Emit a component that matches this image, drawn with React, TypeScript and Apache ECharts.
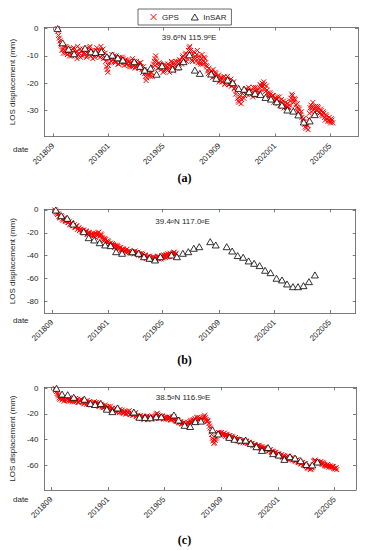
import React, { useEffect, useRef } from 'react';
import * as echarts from 'echarts';

// x values are days after 2018-09-01
const TICK_DAYS = [0, 122, 242, 365, 487, 608];
const TICK_LABELS = ['201809', '201901', '201905', '201909', '202001', '202005'];

const Y_TICKS_A = [-30, -20, -10, 0];
const Y_TICKS_B = [-80, -60, -40, -20, 0];
const Y_TICKS_C = [-60, -40, -20, 0];

const LOCATIONS = ['39.6°N 115.9°E', '39.4°N 117.0°E', '38.5°N 116.9°E'];
const CAPTIONS = ['(a)', '(b)', '(c)'];

const GPS_STEP = 3; // days between consecutive listed GPS values

const GPS_A_START = 9;
const GPS_A = [
  0, -2.5, -4.5, -6, -7.5, -6.5, -9, -7, -8.5, -10,
  -8, -9.5, -7, -10, -8.5, -6.5, -9, -10.5, -8, -7.5,
  -9.5, -7.5, -10, -8, -6.5, -9, -11, -8.5, -9.5, -7,
  -10, -8.5, -6.5, -9.5, -11, -9, -14, -16, -12.5, -10.5,
  -9.5, -11, -12, -10, -11.5, -13, -10.5, -12, -11, -13.5,
  -11.5, -13, -12, -14, -12.5, -11, -13.5, -14.5, -12, -13,
  -13.5, -12.5, -15, -14, -16.5, -19, -17, -15.5, -17.5, -16,
  -14, -12, -10, -13, -14.5, -13, -15, -14, -15.5, -13.5,
  -15, -13, -16, -14, -12.5, -15.5, -13.5, -12, -14.5, -13,
  -11.5, -13, -10, -12.5, -9, -11, -8, -6.5, -10, -12,
  -8.5, -11, -9.5, -12.5, -10, -13, -9.5, -12, -11, -13.5,
  -15.5, -14.5, -17, -16, -15, -17.5, -16.5, -18.5, -17, -19,
  -18, -19.5, -17.5, -20, -18.5, -19, -20.5, -18.5, -21, -19.5,
  -21.5, -23, -25.5, -27, -24.5, -26, -23, -24.5, -22, -23.5,
  -21.5, -24, -22.5, -25, -23, -21.5, -24.5, -22, -23.5, -21,
  -20, -19.5, -22, -21, -23.5, -25, -24, -26, -24.5, -25.5,
  -27, -25, -26.5, -28, -26, -27.5, -29, -27, -28.5, -30,
  -28, -25.5, -24.5, -27, -26, -29, -30.5, -29.5, -31.5, -32.5,
  -33, -35, -36.5, -35.5, -33, -29, -30.5, -27, -29.5, -28.5,
  -30, -29, -31, -30, -32, -31, -33.5, -32, -34, -32.5,
  -34.5, -33.5,
];
const GPS_A2_START = 10.5;
const GPS_A2 = [
  -1, -3.5, -5.5, -8, -9, -8, -6.5, -9.5, -7.5, -9,
  -10, -7.5, -9, -8.5, -11, -9.5, -7.5, -8.5, -10, -9,
  -8, -10.5, -9, -7, -10, -8, -9.5, -10.5, -8, -9.5,
  -8, -10.5, -8, -7.5, -10.5, -12, -15, -13.5, -11, -12,
  -11.5, -10, -12.5, -11, -13, -11.5, -12.5, -10.5, -12.5, -11.5,
  -13, -11.5, -13.5, -12.5, -14, -13, -12, -14, -13, -14.5,
  -12.5, -14, -16, -15, -17.5, -18, -15.5, -17, -16, -17.5,
  -13, -11, -12, -14.5, -12.5, -14, -13.5, -16, -13, -14.5,
  -14, -15, -13.5, -12, -14, -12.5, -14.5, -13.5, -12, -11.5,
  -12.5, -10.5, -11.5, -9.5, -12, -9.5, -7, -8, -11.5, -9.5,
  -10.5, -12, -8, -11, -12.5, -11, -13, -10.5, -12.5, -14,
  -16.5, -16, -15.5, -18, -17, -16, -18.5, -17.5, -19.5, -18,
  -19.5, -18, -20.5, -19, -17.5, -20.5, -19.5, -21, -20, -22,
  -24, -22, -26.5, -25, -27.5, -23, -25.5, -22.5, -24, -22.5,
  -23, -22.5, -24, -21.5, -24.5, -23, -22.5, -23.5, -20.5, -22.5,
  -21, -20.5, -23, -22.5, -24.5, -23.5, -25.5, -24.5, -27, -26,
  -26, -27.5, -25, -27, -28.5, -26.5, -28, -29, -27.5, -29,
  -26.5, -24, -26, -25.5, -28, -27.5, -29, -31, -30.5, -33.5,
  -34, -36, -35, -37, -31, -28, -29, -28.5, -30.5, -29,
  -28.5, -30.5, -29.5, -31.5, -30.5, -32.5, -31.5, -33, -33.5, -34,
  -33, -34.5,
];

const GPS_B_START = 6;
const GPS_B = [
  0, -2, -4, -5.5, -7, -6, -9, -8, -10, -9.5,
  -11, -12.5, -11, -14, -13, -15.5, -14, -16.5, -18, -17,
  -19, -17.5, -20, -19, -21.5, -20, -22.5, -21, -23, -21.5,
  -20.5, -22, -19.5, -23, -22, -25, -27, -26, -29, -28,
  -30, -31.5, -29.5, -32, -31, -33.5, -32, -34, -33, -35.5,
  -34.5, -36, -35, -37, -36, -38, -37, -36.5, -38.5, -37.5,
  -38, -39.5, -38.5, -40, -39, -41, -40, -42.5, -41, -40.5,
  -42, -43.5, -41.5, -43, -42, -41, -43, -41.5, -40, -42,
  -40.5, -39, -41, -39.5, -38, -40, -38.5, -37, -39,
];
const GPS_B2_START = 7.5;
const GPS_B2 = [
  -1, -3, -3.5, -6.5, -5, -8, -7, -9.5, -8.5, -11,
  -10, -13, -12, -13.5, -15, -14, -17, -15.5, -17, -18.5,
  -18, -20, -18.5, -21, -19.5, -22, -20.5, -22, -21, -24,
  -21.5, -20, -23, -21, -24, -26, -25, -28, -27, -30,
  -29, -32, -30.5, -33, -32, -31, -34.5, -33, -35, -34,
  -35.5, -37, -34.5, -36.5, -37.5, -36.5, -38, -37.5, -36, -38,
  -37, -38.5, -40, -38, -40.5, -39.5, -42, -41, -43, -42,
  -43, -41, -42.5, -44, -42.5, -40.5, -42, -43, -41, -39.5,
  -41.5, -40, -38.5, -40.5, -39, -41, -37.5, -39.5, -38,
];

const GPS_C_START = 8;
const GPS_C = [
  0, -2.5, -5, -7.5, -6.5, -9, -8, -7, -9.5, -8.5,
  -7.5, -10, -9, -8, -10.5, -9.5, -8.5, -11, -10, -9,
  -10.5, -12, -11, -9.5, -12.5, -11, -13, -12, -10.5, -12.5,
  -13, -11.5, -14, -12.5, -13.5, -15, -14, -16, -14.5, -15.5,
  -17, -15.5, -16.5, -18, -16, -17.5, -19, -18, -17, -19.5,
  -18.5, -20, -19, -17.5, -20.5, -19.5, -21, -20, -22, -21,
  -22.5, -21.5, -23.5, -22, -24, -23, -21.5, -23.5, -22.5, -24,
  -22, -23.5, -21, -19.5, -22.5, -21.5, -23, -22, -24, -23,
  -22.5, -24, -23, -25, -23.5, -22, -24.5, -26, -25, -27,
  -26.5, -28, -27, -29, -28, -26.5, -27.5, -25, -26.5, -24.5,
  -23.5, -25.5, -22.5, -24, -26, -25, -23, -21, -24.5, -26,
  -27.5, -31, -36, -41, -42.5, -39, -36.5, -34.5, -36, -34.5,
  -36, -35, -37.5, -36.5, -38, -37, -39, -38, -40, -38.5,
  -39.5, -41, -40, -42, -41, -40, -42.5, -41.5, -43, -42,
  -44, -43, -45, -44, -46, -45, -44.5, -46.5, -45.5, -47.5,
  -46.5, -48, -47, -49, -48, -50, -49.5, -51, -50, -52,
  -51.5, -53, -52, -54, -53, -55, -54, -53, -55.5, -54.5,
  -56, -55, -57, -56, -58, -57.5, -59, -58, -60, -59,
  -61, -62.5, -60.5, -63, -61.5, -57, -56, -58, -57, -58.5,
  -57.5, -59.5, -58.5, -60, -61, -59.5, -61.5, -60.5, -62, -61,
  -63, -62,
];
const GPS_C2_START = 9.5;
const GPS_C2 = [
  -1.5, -4, -6, -8.5, -7.5, -8, -10, -8.5, -7.5, -9.5,
  -9, -8.5, -10.5, -9.5, -8, -10, -11, -9.5, -8.5, -10.5,
  -11.5, -10, -12.5, -11, -10.5, -12, -11.5, -13.5, -11.5, -11,
  -12, -14, -13, -14.5, -15, -13, -15.5, -14.5, -16.5, -14,
  -16, -17.5, -17, -15.5, -18.5, -17, -16.5, -18.5, -19, -18,
  -20, -18, -19.5, -20.5, -19, -21, -20.5, -19, -21.5, -22.5,
  -21.5, -23, -22, -24.5, -22.5, -22, -24.5, -22.5, -23.5, -23,
  -23, -22, -20, -21, -23.5, -22.5, -21.5, -23.5, -22.5, -24,
  -23.5, -22.5, -24.5, -24, -22.5, -23.5, -25.5, -24.5, -26.5, -26,
  -27.5, -27, -28.5, -27.5, -29, -27, -26, -26.5, -25, -25.5,
  -24.5, -23, -25, -23, -25, -24, -22, -23, -25.5, -25,
  -29.5, -34, -39, -43, -40.5, -38, -35.5, -35, -35, -36,
  -35.5, -36.5, -36, -37.5, -37, -38.5, -37.5, -39.5, -39, -40,
  -40.5, -40, -41.5, -41, -42.5, -41.5, -41, -43, -42.5, -43.5,
  -43, -44.5, -44, -45.5, -45, -46, -45.5, -47, -46.5, -46.5,
  -47.5, -47, -48.5, -48, -49.5, -49, -50.5, -50, -51.5, -51,
  -52.5, -52, -53.5, -52.5, -54.5, -53.5, -55, -54, -54.5, -55.5,
  -55, -56.5, -56, -57.5, -57, -58.5, -58, -59.5, -59, -60.5,
  -62, -61.5, -63.5, -62, -60, -56.5, -57, -57.5, -58, -57.5,
  -58.5, -58, -59.5, -60.5, -60, -60.5, -61, -61.5, -61, -62.5,
  -62.5, -63.5,
];

const INSAR_A_DAYS = [10, 21, 34, 46, 70, 83, 93, 106, 118, 130, 142, 153, 178, 191, 201, 214, 227, 239, 262, 275, 286, 299, 311, 322, 347, 358, 383, 394, 407, 419, 430, 443, 455, 466, 478, 491, 502, 514, 527, 538, 550, 563, 574];
const INSAR_A_MM = [0, -5.2, -7.5, -9.2, -7.2, -8.5, -8.7, -8.4, -10.3, -9.7, -10.7, -11.5, -12.1, -13.8, -15.2, -14.5, -16.7, -13.6, -14.8, -14, -12.1, -9.6, -15.2, -16.4, -16.6, -18.2, -18.8, -19.8, -21.9, -22.2, -23.1, -23.7, -24.1, -25.2, -25.8, -26.8, -28, -29.8, -30.2, -31.6, -34.2, -33.8, -31.5];

const INSAR_B_DAYS = [8, 20, 33, 46, 69, 80, 92, 104, 116, 128, 140, 153, 176, 189, 201, 213, 225, 237, 261, 273, 286, 298, 310, 322, 346, 358, 382, 394, 406, 418, 430, 442, 454, 466, 478, 491, 503, 514, 527, 538, 550, 562, 575];
const INSAR_B_MM = [0, -5, -7.3, -12.3, -19, -24.3, -26.3, -28.7, -30.7, -31.3, -36.6, -38, -36.6, -38, -41, -42.4, -43.9, -41, -39.5, -41, -38, -36.6, -33.6, -32.2, -27.8, -30.7, -32.2, -36, -40, -41.5, -44.7, -46.8, -48.8, -52.9, -55, -59.9, -61.4, -64.9, -67.3, -67.3, -66.4, -62.9, -57];

const INSAR_C_DAYS = [11, 23, 35, 48, 71, 84, 94, 106, 119, 131, 142, 177, 189, 201, 213, 225, 236, 263, 273, 286, 298, 309, 321, 346, 358, 382, 393, 405, 417, 428, 440, 452, 465, 476, 488, 500, 512, 523, 535, 547, 560, 571];
const INSAR_C_MM = [0, -4.5, -5, -7, -8.5, -11.8, -12.6, -11.8, -16.3, -18.2, -15.3, -18.5, -22.6, -22.7, -23, -22.2, -22.2, -20.8, -24.8, -28.9, -29.8, -26, -25.6, -32.4, -35.6, -38.3, -39.8, -40.4, -40.5, -43, -45.6, -48.5, -46.2, -51, -52.1, -55.5, -53.4, -54.5, -56.5, -59.5, -59.8, -57.5];

const AX = '#5a5a5a';
const TXT = '#262626';
const FONT = '"Liberation Sans", Arial, Helvetica, sans-serif';
const CROSS = 'path://M0 0L10 10M10 0L0 10';

const PANELS = [
  { left: 39, top: 27.5, width: 319, height: 109, xMin: -19, xMax: 669, yMin: -39.5, yMax: 0.4, yTicks: Y_TICKS_A,
    gpsSets: [[GPS_A_START, GPS_A], [GPS_A2_START, GPS_A2]] as [number, number[]][],
    insD: INSAR_A_DAYS, insV: INSAR_A_MM, locX: 189, locY: 37, dateY: 149.5, capY: 178 },
  { left: 39, top: 209.3, width: 316.7, height: 103.7, xMin: -16.8, xMax: 664.3, yMin: -90.4, yMax: 0.6, yTicks: Y_TICKS_B,
    gpsSets: [[GPS_B_START, GPS_B], [GPS_B2_START, GPS_B2]] as [number, number[]][],
    insD: INSAR_B_DAYS, insV: INSAR_B_MM, locX: 182.5, locY: 221.5, dateY: 320.5, capY: 360 },
  { left: 39.3, top: 387.3, width: 316.7, height: 102.7, xMin: -14.8, xMax: 653.8, yMin: -79.4, yMax: 0.8, yTicks: Y_TICKS_C,
    gpsSets: [[GPS_C_START, GPS_C], [GPS_C2_START, GPS_C2]] as [number, number[]][],
    insD: INSAR_C_DAYS, insV: INSAR_C_MM, locX: 183, locY: 397.5, dateY: 499.5, capY: 540 },
];

export default function App() {
  const ref = useRef<HTMLDivElement>(null);
  useEffect(() => {
    if (!ref.current) return;
    const chart = echarts.init(ref.current, null, { renderer: 'svg' });
    const lineStyle = { color: AX, width: 0.8 };
    const grid: any[] = [];
    const xAxis: any[] = [];
    const yAxis: any[] = [];
    const series: any[] = [];
    const graphic: any[] = [];
    PANELS.forEach((p, i) => {
      grid.push({ left: p.left, top: p.top, width: p.width, height: p.height, containLabel: false });
      const xBase = {
        type: 'value', gridIndex: i, min: p.xMin, max: p.xMax,
        axisLine: { show: true, onZero: false, lineStyle },
        axisTick: { show: true, inside: true, length: 3, customValues: TICK_DAYS, lineStyle },
        splitLine: { show: false },
      };
      xAxis.push({
        ...xBase, position: 'bottom',
        axisLabel: {
          show: true, customValues: TICK_DAYS, rotate: 45, margin: 8, fontSize: 8, color: TXT, fontFamily: FONT,
          formatter: (v: number) => TICK_LABELS[TICK_DAYS.indexOf(v)] ?? '',
        },
      });
      xAxis.push({ ...xBase, position: 'top', axisLabel: { show: false } });
      const yBase = {
        type: 'value', gridIndex: i, min: p.yMin, max: p.yMax,
        axisLine: { show: true, onZero: false, lineStyle },
        axisTick: { show: true, inside: true, length: 3, customValues: p.yTicks, lineStyle },
        splitLine: { show: false },
      };
      yAxis.push({
        ...yBase, position: 'left',
        name: 'LOS displacement (mm)', nameLocation: 'middle', nameGap: 21,
        nameTextStyle: { fontSize: 8, color: TXT, fontFamily: FONT },
        axisLabel: { show: true, customValues: p.yTicks, margin: 6, fontSize: 8, color: TXT, fontFamily: FONT },
      });
      yAxis.push({ ...yBase, position: 'right', axisLabel: { show: false } });

      const gpsData: number[][] = [];
      p.gpsSets.forEach(([start, vals]) => {
        vals.forEach((v, k) => gpsData.push([start + k * GPS_STEP, v]));
      });
      series.push({
        type: 'scatter', name: 'GPS', xAxisIndex: 2 * i, yAxisIndex: 2 * i,
        data: gpsData,
        symbol: CROSS, symbolSize: 5,
        itemStyle: { color: 'rgba(0,0,0,0)', borderColor: '#ff0000', borderWidth: 1, opacity: 1 },
        z: 2, silent: true,
      });
      series.push({
        type: 'scatter', name: 'InSAR', xAxisIndex: 2 * i, yAxisIndex: 2 * i,
        data: p.insD.map((d, k) => [d, p.insV[k]]),
        symbol: 'triangle', symbolSize: [7, 6],
        itemStyle: { color: '#ffffff', borderColor: '#000000', borderWidth: 0.8, opacity: 1 },
        z: 3, silent: true,
      });

      graphic.push({
        type: 'text', x: p.locX, y: p.locY, z: 10,
        style: {
          text: LOCATIONS[i].replace(/°/g, '{s|o}'),
          fontSize: 8, fontFamily: FONT, fill: TXT,
          align: 'center', verticalAlign: 'middle', textAlign: 'center', textVerticalAlign: 'middle',
          rich: { s: { fontSize: 5.5, fontFamily: FONT, fill: TXT, verticalAlign: 'top' } },
        },
      });
      graphic.push({
        type: 'text', x: 13, y: p.dateY, z: 10,
        style: {
          text: 'date', fontSize: 8, fontFamily: FONT, fill: TXT,
          align: 'left', verticalAlign: 'middle', textAlign: 'left', textVerticalAlign: 'middle',
        },
      });
      graphic.push({
        type: 'text', x: 184.5, y: p.capY, z: 10,
        style: {
          text: CAPTIONS[i], fontSize: 12, fontWeight: 'bold', fontFamily: '"Liberation Serif", "Times New Roman", serif', fill: '#000',
          align: 'center', verticalAlign: 'middle', textAlign: 'center', textVerticalAlign: 'middle',
        },
      });
    });

    chart.setOption({
      animation: false,
      backgroundColor: '#ffffff',
      grid, xAxis, yAxis, series, graphic,
      legend: {
        data: [
          { name: 'GPS', icon: CROSS, itemStyle: { color: 'rgba(0,0,0,0)', borderColor: '#ff0000', borderWidth: 1 } },
          { name: 'InSAR', icon: 'triangle', itemStyle: { color: '#ffffff', borderColor: '#000000', borderWidth: 0.8 } },
        ],
        left: 138, top: 9, orient: 'horizontal',
        padding: [4, 5, 4, 12], itemWidth: 7, itemHeight: 6, itemGap: 12,
        borderColor: '#444', borderWidth: 0.8, backgroundColor: '#fff',
        selectedMode: false,
        textStyle: { fontSize: 8, color: TXT, fontFamily: FONT },
      },
    });
    return () => chart.dispose();
  }, []);
  return (
    <div
      ref={ref}
      style={{ position: 'absolute', left: 0, top: 0, width: 367, height: 550, background: '#fff' }}
    />
  );
}
